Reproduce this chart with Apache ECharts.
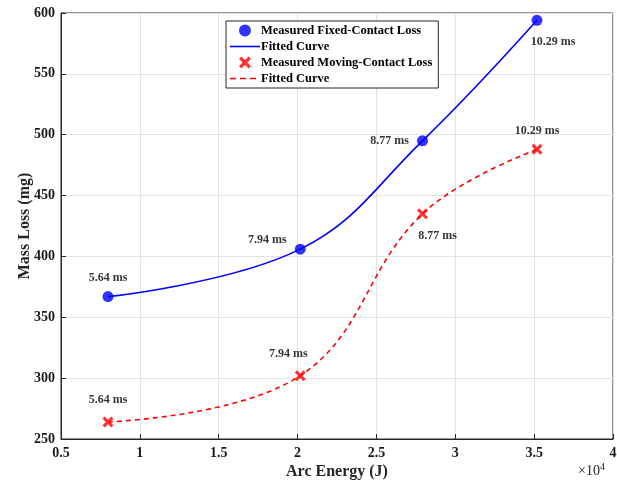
<!DOCTYPE html>
<html>
<head>
<meta charset="utf-8">
<script src="https://cdn.jsdelivr.net/npm/echarts@6/dist/echarts.min.js"></script>
<style>html,body{margin:0;padding:0;background:#fff}#c{width:617px;height:483px}</style>
</head>
<body>
<div id="c"></div>
<script>
// Data
const arcEnergy = [7980, 20170, 27920, 35180];
const fixedLoss = [367, 406, 495, 594];
const movingLoss = [264, 302, 435, 488];
const durations = ['5.64 ms', '7.94 ms', '8.77 ms', '10.29 ms'];
const xTicks = [5000, 10000, 15000, 20000, 25000, 30000, 35000, 40000];
const yTicks = [250, 300, 350, 400, 450, 500, 550, 600];

// label layout (style only)
const fixedLabelLayout = [
  {position: 'top', distance: 7, offset: [0, 0]},
  {position: 'left', distance: 8, offset: [0, -9]},
  {position: 'left', distance: 8, offset: [0, 0]},
  {position: 'bottom', distance: 10, offset: [16, 0]}
];
const movingLabelLayout = [
  {position: 'top', distance: 11, offset: [0, 0]},
  {position: 'top', distance: 10, offset: [-12, 0]},
  {position: 'bottom', distance: 11, offset: [15, 0]},
  {position: 'top', distance: 7, offset: [0, 0]}
];

const FONT = '"Liberation Serif", "Times New Roman", serif';
const xPath = 'path://M2,0 L5,3 L8,0 L10,2 L7,5 L10,8 L8,10 L5,7 L2,10 L0,8 L3,5 L0,2 Z';
const solidIcon = 'path://M0,0 M30,12 M0,5.2 L30,5.2 L30,6.8 L0,6.8 Z';
const dashIcon = 'path://M0,0 M30,12 M0,5.2 L6,5.2 L6,6.8 L0,6.8 Z M10,5.2 L16,5.2 L16,6.8 L10,6.8 Z M20,5.2 L26,5.2 L26,6.8 L20,6.8 Z';

function pts(ys) { return arcEnergy.map((x, i) => [x, ys[i]]); }
function labelled(ys, layout) {
  return arcEnergy.map((x, i) => ({
    value: [x, ys[i]],
    label: Object.assign({show: true, formatter: durations[i]}, layout[i])
  }));
}

const chart = echarts.init(document.getElementById('c'), null, {renderer: 'canvas'});
const labelStyle = {color: '#000', fontFamily: FONT, fontWeight: 'bold', fontSize: 12};
const tickStyle = {fontFamily: FONT, fontWeight: 'bold', fontSize: 14, color: '#1a1a1a'};

chart.setOption({
  animation: false,
  backgroundColor: '#fff',
  grid: {left: 61, right: 4, top: 13, bottom: 44, show: true, borderColor: '#262626', borderWidth: 1,
    outerBoundsMode: 'none', containLabel: false},
  xAxis: {
    type: 'value', min: 5000, max: 40000, interval: 5000,
    name: 'Arc Energy (J)', nameLocation: 'middle', nameGap: 25, nameMoveOverlap: false,
    nameTextStyle: {fontFamily: FONT, fontWeight: 'bold', fontSize: 16, color: '#262626'},
    axisLine: {show: true, lineStyle: {color: '#262626', width: 1}},
    axisTick: {show: true, inside: true, length: 5, lineStyle: {color: '#262626'}},
    axisLabel: Object.assign({margin: 7, formatter: v => String(v / 10000)}, tickStyle),
    splitLine: {show: true, lineStyle: {color: '#e3e3e3', width: 1}}
  },
  yAxis: {
    type: 'value', min: 250, max: 600, interval: 50,
    name: 'Mass Loss (mg)', nameLocation: 'middle', nameGap: 28, nameMoveOverlap: false,
    nameTextStyle: {fontFamily: FONT, fontWeight: 'bold', fontSize: 16, color: '#262626'},
    axisLine: {show: true, lineStyle: {color: '#262626', width: 1}},
    axisTick: {show: true, inside: true, length: 5, lineStyle: {color: '#262626'}},
    axisLabel: Object.assign({margin: 6}, tickStyle),
    splitLine: {show: true, lineStyle: {color: '#e3e3e3', width: 1}}
  },
  legend: {
    left: 226, top: 21, orient: 'vertical', itemGap: 3, itemWidth: 30, itemHeight: 12,
    padding: [3, 6, 3, 4],
    backgroundColor: '#fff', borderColor: '#262626', borderWidth: 1,
    textStyle: {fontFamily: FONT, fontWeight: 'bold', fontSize: 12.5, color: '#000', padding: [0, 0, 0, -4]},
    data: [
      {name: 'Measured Fixed-Contact Loss'},
      {name: 'Fitted Curve', icon: solidIcon, itemStyle: {color: '#0000ff'}},
      {name: 'Measured Moving-Contact Loss'},
      {name: 'Fitted Curve ', icon: dashIcon, itemStyle: {color: '#ff0000'}}
    ]
  },
  graphic: [{
    type: 'text', left: 578, top: 462,
    style: {
      text: '{a|×10}{b|4}',
      rich: {
        a: {fontFamily: FONT, fontSize: 14, fill: '#262626'},
        b: {fontFamily: FONT, fontSize: 10, fill: '#262626', verticalAlign: 'top', padding: [0, 0, 9, 0]}
      }
    }
  }],
  series: [
    {
      name: 'Fitted Curve', type: 'line', data: pts(fixedLoss), smooth: 0.4,
      symbol: 'none', lineStyle: {color: '#0000ff', width: 1.6}, itemStyle: {color: '#0000ff'}, z: 2
    },
    {
      name: 'Fitted Curve ', type: 'line', data: pts(movingLoss), smooth: 0.4,
      symbol: 'none', lineStyle: {color: '#ff0000', width: 1.6, type: [5, 4]}, itemStyle: {color: '#ff0000'}, z: 2
    },
    {
      name: 'Measured Fixed-Contact Loss', type: 'scatter', data: labelled(fixedLoss, fixedLabelLayout),
      symbol: 'circle', symbolSize: 11, itemStyle: {color: '#0000ff'}, label: labelStyle, z: 3
    },
    {
      name: 'Measured Moving-Contact Loss', type: 'scatter', data: labelled(movingLoss, movingLabelLayout),
      symbol: xPath, symbolSize: 11, itemStyle: {color: '#ff0000'}, label: labelStyle, z: 3
    }
  ]
});
</script>
</body>
</html>
